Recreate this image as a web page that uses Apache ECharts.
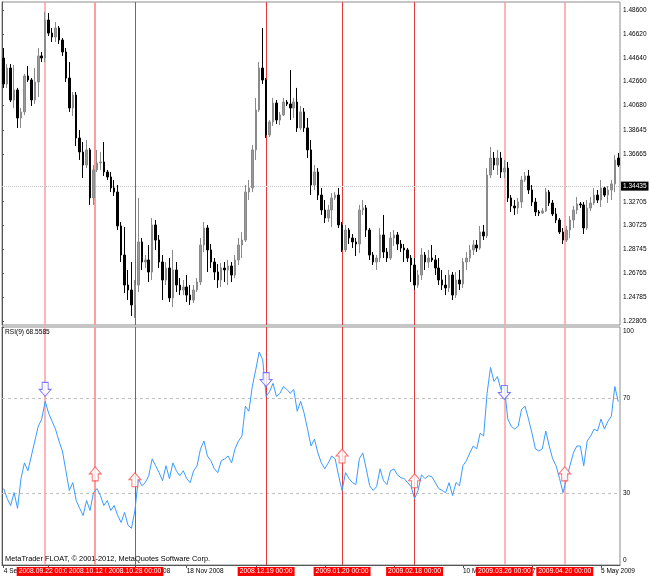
<!DOCTYPE html>
<html><head><meta charset="utf-8">
<script src="https://cdn.jsdelivr.net/npm/echarts@6.0.0/dist/echarts.min.js"></script>
<style>html,body{margin:0;padding:0;background:#fff}#chart{width:650px;height:578px}</style>
</head><body><div id="chart"></div>
<script>
// ---- categories: daily bars (weekdays) ----
const dates = [
'2008.09.04','2008.09.05','2008.09.08','2008.09.09','2008.09.10','2008.09.11','2008.09.12','2008.09.15','2008.09.16','2008.09.17',
'2008.09.18','2008.09.19','2008.09.22','2008.09.23','2008.09.24','2008.09.25','2008.09.26','2008.09.29','2008.09.30','2008.10.01',
'2008.10.02','2008.10.03','2008.10.06','2008.10.07','2008.10.08','2008.10.09','2008.10.10','2008.10.13','2008.10.14','2008.10.15',
'2008.10.16','2008.10.17','2008.10.20','2008.10.21','2008.10.22','2008.10.23','2008.10.24','2008.10.27','2008.10.28','2008.10.29',
'2008.10.30','2008.10.31','2008.11.03','2008.11.04','2008.11.05','2008.11.06','2008.11.07','2008.11.10','2008.11.11','2008.11.12',
'2008.11.13','2008.11.14','2008.11.17','2008.11.18','2008.11.19','2008.11.20','2008.11.21','2008.11.24','2008.11.25','2008.11.26',
'2008.11.27','2008.11.28','2008.12.01','2008.12.02','2008.12.03','2008.12.04','2008.12.05','2008.12.08','2008.12.09','2008.12.10',
'2008.12.11','2008.12.12','2008.12.15','2008.12.16','2008.12.17','2008.12.18','2008.12.19','2008.12.22','2008.12.23','2008.12.24',
'2008.12.25','2008.12.26','2008.12.29','2008.12.30','2008.12.31','2009.01.01','2009.01.02','2009.01.05','2009.01.06','2009.01.07',
'2009.01.08','2009.01.09','2009.01.12','2009.01.13','2009.01.14','2009.01.15','2009.01.16','2009.01.19','2009.01.20','2009.01.21',
'2009.01.22','2009.01.23','2009.01.26','2009.01.27','2009.01.28','2009.01.29','2009.01.30','2009.02.02','2009.02.03','2009.02.04',
'2009.02.05','2009.02.06','2009.02.09','2009.02.10','2009.02.11','2009.02.12','2009.02.13','2009.02.16','2009.02.17','2009.02.18',
'2009.02.19','2009.02.20','2009.02.23','2009.02.24','2009.02.25','2009.02.26','2009.02.27','2009.03.02','2009.03.03','2009.03.04',
'2009.03.05','2009.03.06','2009.03.09','2009.03.10','2009.03.11','2009.03.12','2009.03.13','2009.03.16','2009.03.17','2009.03.18',
'2009.03.19','2009.03.20','2009.03.23','2009.03.24','2009.03.25','2009.03.26','2009.03.27','2009.03.30','2009.03.31','2009.04.01',
'2009.04.02','2009.04.03','2009.04.06','2009.04.07','2009.04.08','2009.04.09','2009.04.10','2009.04.13','2009.04.14','2009.04.15',
'2009.04.16','2009.04.17','2009.04.20','2009.04.21','2009.04.22','2009.04.23','2009.04.24','2009.04.27','2009.04.28','2009.04.29',
'2009.04.30','2009.05.01','2009.05.04','2009.05.05','2009.05.06','2009.05.07','2009.05.08','2009.05.11','2009.05.12'
];

// ---- price series ----
const open = [
1.4462,1.4247,1.4379,1.4114,1.4197,1.3965,1.4015,1.4313,1.4280,1.4114,
1.4263,1.4479,1.4462,1.4777,1.4669,1.4636,1.4711,1.4611,1.4512,1.4296,
1.4048,1.4155,1.3799,1.3683,1.3575,1.3700,1.3302,1.3534,1.3592,1.3600,
1.3517,1.3476,1.3385,1.3351,1.3070,1.2829,1.2580,1.2539,1.2415,1.2580,
1.2937,1.2771,1.2788,1.2688,1.3078,1.2953,1.2771,1.2622,1.2721,1.2473,
1.2705,1.2580,1.2539,1.2564,1.2497,1.2456,1.2539,1.2605,1.2912,1.3053,
1.2871,1.2771,1.2688,1.2622,1.2721,1.2705,1.2738,1.2663,1.2788,1.2912,
1.2953,1.3351,1.3385,1.3700,1.4031,1.4379,1.4280,1.3824,1.3932,1.4089,
1.3948,1.3990,1.4097,1.4081,1.4048,1.4097,1.3882,1.4015,1.3882,1.3700,
1.3409,1.3517,1.3326,1.3202,1.3136,1.3202,1.3302,1.3326,1.3078,1.2871,
1.3036,1.2970,1.2937,1.2920,1.3202,1.3219,1.3036,1.2829,1.2771,1.2804,
1.2995,1.2854,1.2804,1.2970,1.2995,1.2920,1.2887,1.2871,1.2804,1.2746,
1.2580,1.2663,1.2829,1.2771,1.2804,1.2788,1.2721,1.2622,1.2580,1.2556,
1.2663,1.2497,1.2622,1.2589,1.2771,1.2804,1.2871,1.2912,1.2887,1.3020,
1.2987,1.3492,1.3633,1.3575,1.3633,1.3517,1.3550,1.3302,1.3235,1.3219,
1.3268,1.3451,1.3484,1.3368,1.3268,1.3186,1.3177,1.3194,1.3351,1.3260,
1.3169,1.3119,1.3020,1.2953,1.3036,1.3119,1.3202,1.3252,1.3244,1.3053,
1.3219,1.3260,1.3326,1.3285,1.3385,1.3326,1.3368,1.3418,1.3633
];
const high = [
1.4545,1.4412,1.4412,1.4404,1.4214,1.4048,1.4330,1.4396,1.4296,1.4379,
1.4545,1.4512,1.4844,1.4835,1.4711,1.4761,1.4728,1.4628,1.4545,1.4429,
1.4180,1.4180,1.3865,1.3766,1.3782,1.3716,1.3575,1.3700,1.3683,1.3766,
1.3534,1.3517,1.3451,1.3409,1.3103,1.3061,1.2705,1.2771,1.2622,1.3302,
1.2970,1.2829,1.2912,1.3136,1.3119,1.2995,1.2829,1.2771,1.2804,1.2871,
1.2771,1.2638,1.2622,1.2663,1.2580,1.2580,1.2638,1.2970,1.3103,1.3078,
1.2920,1.2804,1.2754,1.2763,1.2771,1.2788,1.2771,1.2829,1.2970,1.3020,
1.3409,1.3451,1.3741,1.4131,1.4429,1.4711,1.4296,1.3948,1.4131,1.4114,
1.4015,1.4131,1.4114,1.4363,1.4131,1.4214,1.4064,1.4048,1.3965,1.3782,
1.3575,1.3550,1.3385,1.3285,1.3244,1.3343,1.3351,1.3385,1.3103,1.3078,
1.3053,1.3003,1.2970,1.3244,1.3285,1.3244,1.3053,1.2854,1.2829,1.3053,
1.3161,1.2887,1.3020,1.3036,1.3020,1.2953,1.2920,1.2887,1.2829,1.2804,
1.2705,1.2887,1.2854,1.2871,1.2912,1.2829,1.2804,1.2705,1.2663,1.2705,
1.2688,1.2688,1.2705,1.2804,1.2854,1.2912,1.2953,1.2953,1.3070,1.3078,
1.3550,1.3724,1.3683,1.3700,1.3683,1.3617,1.3600,1.3326,1.3285,1.3302,
1.3484,1.3517,1.3534,1.3409,1.3302,1.3202,1.3219,1.3385,1.3368,1.3285,
1.3219,1.3136,1.3053,1.3070,1.3152,1.3235,1.3310,1.3268,1.3268,1.3285,
1.3310,1.3385,1.3368,1.3451,1.3393,1.3401,1.3451,1.3658,1.3675
];
const low = [
1.4214,1.4214,1.4097,1.4048,1.3882,1.3882,1.3990,1.4263,1.4064,1.4081,
1.4139,1.4429,1.4429,1.4645,1.4595,1.4595,1.4578,1.4479,1.4263,1.4015,
1.3981,1.3733,1.3617,1.3467,1.3550,1.3244,1.3244,1.3517,1.3534,1.3484,
1.3451,1.3351,1.3318,1.3036,1.2771,1.2514,1.2456,1.2323,1.2307,1.2522,
1.2705,1.2721,1.2605,1.2622,1.2871,1.2721,1.2456,1.2580,1.2439,1.2398,
1.2522,1.2497,1.2497,1.2439,1.2415,1.2431,1.2522,1.2580,1.2854,1.2688,
1.2721,1.2622,1.2556,1.2564,1.2605,1.2580,1.2605,1.2638,1.2746,1.2804,
1.2937,1.3285,1.3351,1.3617,1.4015,1.4247,1.3799,1.3807,1.3899,1.3915,
1.3907,1.3981,1.4064,1.3948,1.3965,1.3849,1.3865,1.3849,1.3633,1.3326,
1.3368,1.3285,1.3161,1.3094,1.3103,1.3061,1.3285,1.3053,1.2854,1.2854,
1.2920,1.2887,1.2821,1.2846,1.3161,1.2978,1.2788,1.2746,1.2705,1.2771,
1.2804,1.2771,1.2788,1.2904,1.2871,1.2854,1.2771,1.2771,1.2605,1.2539,
1.2556,1.2622,1.2705,1.2721,1.2771,1.2663,1.2580,1.2539,1.2497,1.2522,
1.2456,1.2473,1.2539,1.2556,1.2705,1.2771,1.2829,1.2854,1.2871,1.2953,
1.2970,1.3467,1.3534,1.3492,1.3467,1.3467,1.3268,1.3186,1.3161,1.3169,
1.3219,1.3434,1.3335,1.3235,1.3152,1.3152,1.3169,1.3186,1.3235,1.3152,
1.3094,1.3003,1.2920,1.2937,1.2970,1.3053,1.3169,1.3219,1.3003,1.3036,
1.3194,1.3244,1.3260,1.3227,1.3310,1.3260,1.3285,1.3351,1.3559
];
const close = [
1.4247,1.4379,1.4114,1.4197,1.3965,1.4015,1.4313,1.4280,1.4114,1.4263,
1.4479,1.4462,1.4777,1.4669,1.4636,1.4711,1.4611,1.4512,1.4296,1.4048,
1.4155,1.3799,1.3683,1.3575,1.3700,1.3302,1.3534,1.3592,1.3600,1.3517,
1.3476,1.3385,1.3351,1.3070,1.2829,1.2580,1.2539,1.2415,1.2580,1.2937,
1.2771,1.2788,1.2688,1.3078,1.2953,1.2771,1.2622,1.2721,1.2473,1.2705,
1.2580,1.2539,1.2564,1.2497,1.2456,1.2539,1.2605,1.2912,1.3053,1.2871,
1.2771,1.2688,1.2622,1.2721,1.2705,1.2738,1.2663,1.2788,1.2912,1.2953,
1.3351,1.3385,1.3700,1.4031,1.4379,1.4280,1.3824,1.3932,1.4089,1.3948,
1.3990,1.4097,1.4081,1.4048,1.4097,1.3882,1.4015,1.3882,1.3700,1.3409,
1.3517,1.3326,1.3202,1.3136,1.3202,1.3302,1.3326,1.3078,1.2871,1.3036,
1.2970,1.2937,1.2920,1.3202,1.3219,1.3036,1.2829,1.2771,1.2804,1.2995,
1.2854,1.2804,1.2970,1.2995,1.2920,1.2887,1.2871,1.2804,1.2746,1.2580,
1.2663,1.2829,1.2771,1.2804,1.2788,1.2721,1.2622,1.2580,1.2556,1.2663,
1.2497,1.2622,1.2589,1.2771,1.2804,1.2871,1.2912,1.2887,1.3020,1.2987,
1.3492,1.3633,1.3575,1.3633,1.3517,1.3550,1.3302,1.3235,1.3219,1.3268,
1.3451,1.3484,1.3368,1.3268,1.3186,1.3177,1.3194,1.3351,1.3260,1.3169,
1.3119,1.3020,1.2953,1.3036,1.3119,1.3202,1.3252,1.3244,1.3053,1.3219,
1.3260,1.3326,1.3285,1.3385,1.3326,1.3368,1.3418,1.3617,1.3575
];
const currentPrice = 1.34435;

// ---- RSI(9) values ----
const rsi = [
32.1,27.9,25.0,30.4,23.8,36.3,42.9,39.6,45.8,52.1,
58.3,61.3,68.8,63.8,60.4,57.1,52.1,47.9,39.6,31.3,
34.6,27.1,23.8,20.8,27.1,22.9,30.4,32.1,29.2,25.0,
27.1,22.9,25.0,20.8,17.9,22.1,16.7,15.4,22.9,36.3,
33.3,34.6,37.5,44.6,41.7,38.8,35.4,41.7,36.3,42.9,
39.6,37.5,39.6,36.3,34.6,39.6,41.7,48.8,52.1,45.8,
43.8,40.4,38.8,43.8,44.6,45.8,42.9,48.8,52.1,54.2,
66.7,64.6,75.0,82.1,89.5,86.3,70.8,72.9,76.3,70.8,
72.1,75.0,73.8,72.1,73.8,64.6,68.8,63.8,57.1,50.0,
52.9,47.1,42.9,40.4,42.9,45.8,44.6,37.5,31.3,38.8,
36.3,34.6,33.8,44.6,47.1,40.4,33.3,31.3,32.9,40.4,
35.4,33.8,39.6,40.4,37.9,36.7,36.3,34.6,32.9,27.9,
31.3,37.9,36.3,37.5,37.1,34.6,32.1,31.3,30.4,34.6,
29.2,34.6,33.3,41.7,43.8,47.1,50.0,48.8,55.4,54.2,
72.1,83.0,77.1,79.2,73.8,75.0,61.3,58.3,57.1,58.3,
65.4,66.7,61.3,55.4,48.8,47.9,48.8,56.3,50.0,44.6,
41.7,36.3,30.4,36.3,41.7,47.1,50.0,50.0,41.7,52.1,
54.2,57.1,56.3,61.3,57.1,60.4,62.5,75.0,68.5585
];
const rsiLevels = [30, 70];

// ---- axis ticks ----
const priceTicks = [1.22805,1.24785,1.26765,1.28745,1.30725,1.32705,1.36665,1.38645,1.40680,1.42660,1.44640,1.46620,1.48600];
const rsiTicks = [0, 30, 70, 100];
const timeLabelIdx = [0, 13, 38, 53, 73, 93, 113, 133, 153, 173];

// ---- vertical line objects and signal arrows (x in bar units) ----
const signalX = [12.5, 27.0, 38.5, 76.5, 98.5, 119.5, 145.5, 163.0];
const signalName = ['2008.09.22 00:00','2008.10.12 00:00','2008.10.28 00:00','2008.12.19 00:00','2009.01.20 00:00','2009.02.18 00:00','2009.03.26 00:00','2009.04.20 00:00'];
const signalDir = ['down','up','up','down','up','up','down','up'];
const signalRsi = [73.8, 38.3, 35.8, 77.9, 45.8, 35.4, 72.5, 38.3];

const N = dates.length;
const FONT = 'Liberation Sans, Arial, sans-serif';
const MON = ['Jan','Feb','Mar','Apr','May','Jun','Jul','Aug','Sep','Oct','Nov','Dec'];
function fmtDate(s){ const p = s.split('.'); return (+p[2]) + ' ' + MON[+p[1]-1] + ' ' + p[0]; }
const showIdx = (i) => timeLabelIdx.indexOf(i) >= 0;

const ohlc = dates.map((d, i) => [open[i], close[i], low[i], high[i]]);
const softLines = [0, 1, 6, 7];
function lineStyleFor(i){
  if (softLines.indexOf(i) >= 0) return {color: '#ff9c9c', width: i === 1 ? 2 : 1.5, type: 'solid'};
  return {color: '#e23a3a', width: 1, type: 'solid'};
}
const DOWN = 'path://M3,0L9,0L9,7L12,7L6,14L0,7L3,7Z';
const UP = 'path://M6,0L12,7L9,7L9,14L3,14L3,7L0,7Z';

const chart = echarts.init(document.getElementById('chart'), null, {renderer: 'canvas'});
chart.setOption({
  animation: false,
  backgroundColor: '#fff',
  textStyle: {fontFamily: FONT},
  grid: [
    {left: 2, right: 30, top: 2, height: 323, show: true, borderColor: '#8c8c8c', borderWidth: 1, backgroundColor: '#fff'},
    {left: 2, right: 30, top: 327, height: 238, show: true, borderColor: '#8c8c8c', borderWidth: 1, backgroundColor: '#fff'}
  ],
  xAxis: [
    {type: 'category', gridIndex: 0, data: dates, boundaryGap: true, show: false},
    {type: 'value', gridIndex: 0, min: 0, max: N, show: false},
    {type: 'category', gridIndex: 1, data: dates, boundaryGap: true,
      axisLine: {show: true, lineStyle: {color: '#555'}},
      axisTick: {show: true, alignWithLabel: true, interval: (i) => showIdx(i), length: 3, lineStyle: {color: '#555'}},
      axisLabel: {interval: (i) => showIdx(i), formatter: (v) => fmtDate(v), align: 'left', fontSize: 6.5, color: '#000', margin: 3, fontFamily: FONT},
      splitLine: {show: false}},
    {type: 'value', gridIndex: 1, min: 0, max: N, show: false}
  ],
  yAxis: [
    {type: 'value', gridIndex: 0, position: 'right', min: 1.22487, max: 1.49264,
      splitLine: {show: false},
      axisLine: {show: true, lineStyle: {color: '#555'}},
      axisTick: {show: true, length: 2, customValues: priceTicks, lineStyle: {color: '#555'}},
      axisLabel: {customValues: priceTicks, formatter: (v) => v.toFixed(5), fontSize: 6.5, color: '#000', margin: 3, fontFamily: FONT}},
    {type: 'value', gridIndex: 1, position: 'right', min: 0, max: 100,
      splitLine: {show: false},
      axisLine: {show: true, lineStyle: {color: '#555'}},
      axisTick: {show: true, length: 2, customValues: rsiTicks, lineStyle: {color: '#555'}},
      axisLabel: {customValues: rsiTicks, fontSize: 6.5, color: '#000', margin: 3, fontFamily: FONT,
        formatter: (v) => v === 100 ? '{t|100}' : (v === 0 ? '{b|0}' : String(v)),
        rich: {t: {padding: [8, 0, 0, 0], fontSize: 6.5, fontFamily: FONT}, b: {padding: [0, 0, 10, 0], fontSize: 6.5, fontFamily: FONT}}}}
  ],
  series: [
    {type: 'scatter', xAxisIndex: 1, yAxisIndex: 0, data: [], silent: true, z: 1,
      markLine: {silent: true, symbol: 'none', z: 1, animation: false, label: {show: false},
        data: signalX.map((x, i) => ({xAxis: x, lineStyle: lineStyleFor(i)}))}},
    {type: 'candlestick', xAxisIndex: 0, yAxisIndex: 0, data: ohlc, barWidth: 2, z: 3,
      itemStyle: {color: '#9a9a9a', color0: '#000000', borderColor: '#8a8a8a', borderColor0: '#000000', borderWidth: 1},
      markLine: {silent: true, symbol: 'none', z: 1, animation: false,
        lineStyle: {color: '#c4c4c4', type: 'dotted', width: 1},
        label: {show: true, position: 'end', formatter: () => currentPrice.toFixed(5), backgroundColor: '#000', color: '#fff',
          fontSize: 6.5, fontFamily: FONT, padding: [1, 2, 1, 2], distance: 1},
        data: [{yAxis: currentPrice}]}},
    {type: 'line', xAxisIndex: 2, yAxisIndex: 1, data: rsi, showSymbol: false, z: 3,
      lineStyle: {color: '#3a9bff', width: 1},
      markLine: {silent: true, symbol: 'none', z: 1, animation: false, label: {show: false},
        lineStyle: {color: '#c0c0c0', type: [3, 3], width: 1},
        data: rsiLevels.map((v) => ({yAxis: v}))}},
    {type: 'scatter', xAxisIndex: 3, yAxisIndex: 1, z: 5, symbolSize: [12, 14],
      data: signalX.map((x, i) => ({
        value: [x, signalRsi[i]],
        symbol: signalDir[i] === 'down' ? DOWN : UP,
        itemStyle: {color: '#fff', borderColor: signalDir[i] === 'down' ? '#5a5aff' : '#ff4a4a', borderWidth: 1}
      })),
      markLine: {silent: true, symbol: 'none', z: 2, animation: false,
        label: {show: true, position: 'start', formatter: '{b}', backgroundColor: '#ff0000', color: '#fff',
          fontSize: 6.8, fontFamily: FONT, padding: [1, 2, 1, 2], distance: 2},
        data: signalX.map((x, i) => ({xAxis: x, name: signalName[i], lineStyle: lineStyleFor(i)}))}}
  ],
  graphic: [
    {type: 'text', left: 5, top: 329, z: 10, style: {text: 'RSI(9) ' + rsi[rsi.length - 1].toFixed(4), fontSize: 6.6, fontFamily: FONT, fill: '#000'}},
    {type: 'text', left: 5, top: 555, z: 10, style: {text: 'MetaTrader FLOAT, \u00A9 2001-2012, MetaQuotes Software Corp.', fontSize: 7.4, fontFamily: FONT, fill: '#000'}}
  ]
});
</script>
</body></html>
